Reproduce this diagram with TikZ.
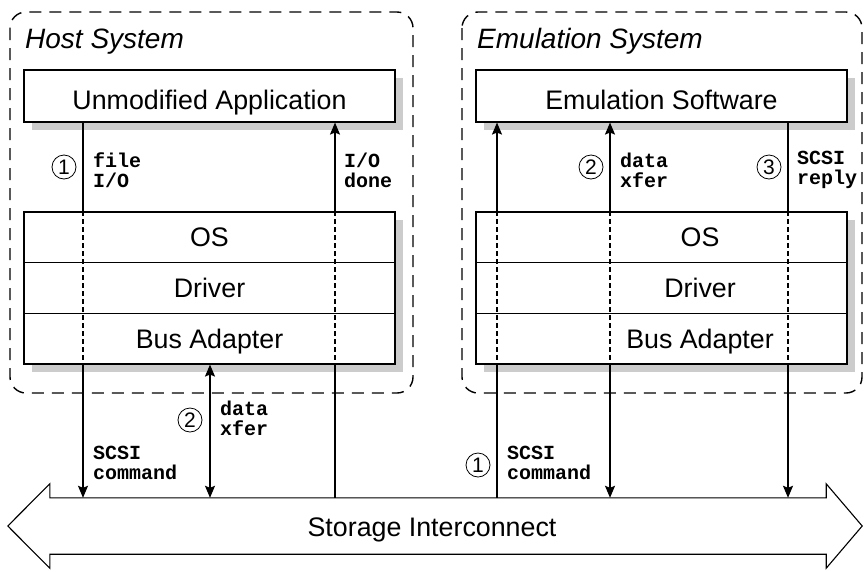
\documentclass[tikz,border=0pt]{standalone}
\usepackage{fontspec}
\setmainfont{Liberation Sans}
\newfontfamily\lblmono{Liberation Mono}
\usetikzlibrary{shadows,calc,arrows.meta}
\begin{document}
\begin{tikzpicture}[x=1pt,y=-1pt,
  sysbox/.style={draw, dash pattern=on 12pt off 8pt, line width=1.4pt, rounded corners=16pt},
  systitle/.style={font=\fontsize{28}{32}\selectfont\itshape, anchor=base west, inner sep=0pt},
  shad/.style={drop shadow={shadow xshift=8pt, shadow yshift=-8pt, fill=black!20, opacity=1}},
  appbox/.style={draw, fill=white, line width=1.1pt, minimum width=371pt, minimum height=52pt,
    inner sep=0pt, font=\fontsize{26.8}{30}\selectfont, text height=27pt, text depth=0pt, shad},
  stackbg/.style={draw, fill=white, line width=1.1pt, minimum width=371pt, minimum height=152pt, inner sep=0pt, shad},
  rowbox/.style={draw, line width=1.1pt, minimum width=371pt, minimum height=50.67pt, inner sep=0pt},
  rowtxt/.style={font=\fontsize{26.8}{30}\selectfont, inner sep=0pt, text height=19pt, text depth=0pt},
  conn/.style={line width=1.3pt},
  connd/.style={line width=1.1pt, dash pattern=on 5pt off 3pt},
  tip/.style={-{Stealth[length=12pt,width=10pt,inset=2pt]}},
  tipb/.style={{Stealth[length=12pt,width=10pt,inset=2pt]}-{Stealth[length=12pt,width=10pt,inset=2pt]}},
  tips/.style={{Stealth[length=12pt,width=10pt,inset=2pt]}-},
  circ/.style={draw, circle, minimum size=24pt, inner sep=0pt, line width=0.8pt, font=\fontsize{21}{21}\selectfont},
  mono/.style={font=\fontsize{20}{20}\selectfont\lblmono\bfseries, align=left, anchor=west, inner sep=0pt}
]
\useasboundingbox (0,0) rectangle (864,571);

% system frames
\draw[sysbox] (10,12) rectangle (413,393);
\draw[sysbox] (462,12) rectangle (862,393);
\node[systitle] (htitle) at (25,48) {Host System};
\node[systitle] (etitle) at (477,48) {Emulation System};

% application boxes
\node[appbox] (happ) at (209.5,96) {Unmodified Application};
\node[appbox] (eapp) at (661.5,96) {Emulation Software};

% stacks
\node[stackbg] (hstack) at (209.5,288) {};
\node[rowbox] (hos) at (209.5,237.33) {};
\node[rowbox] (hdrv) at (209.5,288) {};
\node[rowbox] (hbus) at (209.5,338.67) {};
\node[rowtxt] (hostxt) at (hos) {OS};
\node[rowtxt] (hdrvtxt) at (hdrv) {Driver};
\node[rowtxt] (hbustxt) at (hbus) {Bus Adapter};

\node[stackbg] (estack) at (661.5,288) {};
\node[rowbox] (eos) at (661.5,237.33) {};
\node[rowbox] (edrv) at (661.5,288) {};
\node[rowbox] (ebus) at (661.5,338.67) {};
\node[rowtxt, xshift=38.5pt] (eostxt) at (eos) {OS};
\node[rowtxt, xshift=38.5pt] (edrvtxt) at (edrv) {Driver};
\node[rowtxt, xshift=38.5pt] (ebustxt) at (ebus) {Bus Adapter};

% storage interconnect
\node[minimum width=776pt, minimum height=56pt, inner sep=0pt] (bus) at (438,526) {};
\begin{scope}[shift={(8,8)}]
\fill[black!20] (bus.north west) -- ($(bus.north west)+(0,-14)$) -- ($(bus.west)+(-42,0)$)
  -- ($(bus.south west)+(0,14)$) -- (bus.south west) -- (bus.south east)
  -- ($(bus.south east)+(0,14)$) -- ($(bus.east)+(36,0)$) -- ($(bus.north east)+(0,-14)$)
  -- (bus.north east) -- cycle;
\end{scope}
\draw[fill=white, line width=1.1pt] (bus.north west) -- ($(bus.north west)+(0,-14)$) -- ($(bus.west)+(-42,0)$)
  -- ($(bus.south west)+(0,14)$) -- (bus.south west) -- (bus.south east)
  -- ($(bus.south east)+(0,14)$) -- ($(bus.east)+(36,0)$) -- ($(bus.north east)+(0,-14)$)
  -- (bus.north east) -- cycle;
\node[rowtxt] (buslbl) at (432,526.5) {Storage Interconnect};

% x positions of the connectors
\coordinate (xa) at (83,0);
\coordinate (xb) at (210,0);
\coordinate (xc) at (335,0);
\coordinate (xd) at (497,0);
\coordinate (xe) at (610,0);
\coordinate (xf) at (788,0);

% host connectors
\draw[conn] (happ.south -| xa) -- (hstack.north -| xa);
\draw[connd] (hstack.north -| xa) -- (hstack.south -| xa);
\draw[conn, tip] (hstack.south -| xa) -- (bus.north -| xa);

\draw[conn, tips] (happ.south -| xc) -- (hstack.north -| xc);
\draw[connd] (hstack.north -| xc) -- (hstack.south -| xc);
\draw[conn] (hstack.south -| xc) -- (bus.north -| xc);

\draw[conn, tipb] (hstack.south -| xb) -- (bus.north -| xb);

% emulation connectors
\draw[conn, tips] (eapp.south -| xd) -- (estack.north -| xd);
\draw[connd] (estack.north -| xd) -- (estack.south -| xd);
\draw[conn] (estack.south -| xd) -- (bus.north -| xd);

\draw[conn, tips] (eapp.south -| xe) -- (estack.north -| xe);
\draw[connd] (estack.north -| xe) -- (estack.south -| xe);
\draw[conn, tip] (estack.south -| xe) -- (bus.north -| xe);

\draw[conn] (eapp.south -| xf) -- (estack.north -| xf);
\draw[connd] (estack.north -| xf) -- (estack.south -| xf);
\draw[conn, tip] (estack.south -| xf) -- (bus.north -| xf);

% labels
\node[circ] (hc1) at (64,167) {1};
\node[mono] (hl1) at (93,170) {file\\I/O};
\node[mono] (hl2) at (344,170) {I/O\\done};
\node[circ] (hc2) at (190,420) {2};
\node[mono] (hl3) at (220,418) {data\\xfer};
\node[mono] (hl4) at (93,463) {SCSI\\command};

\node[circ] (ec2) at (591,167) {2};
\node[mono] (el2) at (620,170) {data\\xfer};
\node[circ] (ec3) at (769,167) {3};
\node[mono] (el3) at (797,170) {SCSI\\reply};
\node[circ] (ec1) at (478,465) {1};
\node[mono] (el1) at (507,463) {SCSI\\command};
\end{tikzpicture}
\end{document}
